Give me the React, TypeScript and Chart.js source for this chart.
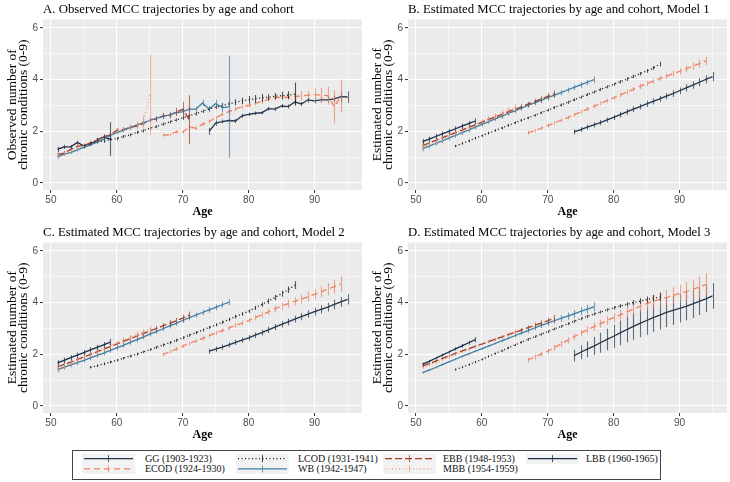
import { useEffect, useRef } from 'react';
import Chart from 'chart.js/auto';

// cohorts, in legend order
const cohortLabels = [
  'GG (1903-1923)',
  'ECOD (1924-1930)',
  'LCOD (1931-1941)',
  'WB (1942-1947)',
  'EBB (1948-1953)',
  'MBB (1954-1959)',
  'LBB (1960-1965)',
];
const cohortColors = ['#22364C', '#F0825F', '#111111', '#3F7EA3', '#A03C28', '#EE9A78', '#1A2E47'];
const cohortDash: number[][] = [[], [6, 4], [1, 2.5], [], [7, 3], [1, 2.5], []];

// ages observed for each cohort
const ggAges = [74, 75, 76, 77, 78, 79, 80, 81, 82, 83, 84, 85, 86, 87, 88, 89, 90, 91, 92, 93, 94, 95];
const ecodAges = [67, 68, 69, 70, 71, 72, 73, 74, 75, 76, 77, 78, 79, 80, 81, 82, 83, 84, 85, 86, 87, 88, 89, 90, 91, 92, 93, 94];
const lcodAges = [56, 57, 58, 59, 60, 61, 62, 63, 64, 65, 66, 67, 68, 69, 70, 71, 72, 73, 74, 75, 76, 77, 78, 79, 80, 81, 82, 83, 84, 85, 86, 87];
const wbAges = [51, 52, 53, 54, 55, 56, 57, 58, 59, 60, 61, 62, 63, 64, 65, 66, 67, 68, 69, 70, 71, 72, 73, 74, 75, 76, 77];
const ebbAges = [51, 52, 53, 54, 55, 56, 57, 58, 59, 60, 61, 62, 63, 64, 65, 66, 67, 68, 69, 70, 71];
const mbbAges = [51, 52, 53, 54, 55, 56, 57, 58, 59, 60, 61, 62, 63, 64, 65];
const lbbAges = [51, 52, 53, 54, 55, 56, 57, 58, 59];
const cohortAges = [ggAges, ecodAges, lcodAges, wbAges, ebbAges, mbbAges, lbbAges];

const xTickLabels = [50, 60, 70, 80, 90];
const yTickLabels = [0, 2, 4, 6];

// A. observed means and error-bar half widths
const aGG = [2.0, 2.32, 2.38, 2.42, 2.4, 2.6, 2.66, 2.7, 2.72, 2.88, 2.86, 2.98, 2.96, 3.14, 3.06, 3.22, 3.18, 3.22, 3.22, 3.26, 3.34, 3.33];
const aGGErr = [0.14, 0.1, 0.08, 0.08, 0.08, 0.08, 0.07, 0.07, 0.07, 0.07, 0.07, 0.08, 0.08, 0.1, 0.08, 0.1, 0.1, 0.1, 0.1, 0.12, 0.2, 0.22];
const aECOD = [1.85, 1.87, 1.98, 1.97, 2.17, 2.12, 2.28, 2.38, 2.52, 2.66, 2.76, 2.86, 2.96, 3.0, 3.08, 3.16, 3.24, 3.3, 3.32, 3.32, 3.35, 3.37, 3.4, 3.42, 3.4, 3.38, 2.95, 3.38];
const aECODErr = [0.06, 0.06, 0.06, 0.06, 0.07, 0.07, 0.07, 0.07, 0.07, 0.07, 0.08, 0.08, 0.08, 0.08, 0.08, 0.09, 0.09, 0.1, 0.1, 0.12, 0.14, 0.18, 0.15, 0.27, 0.28, 0.35, 0.65, 0.63];
const aLCOD = [1.55, 1.6, 1.62, 1.68, 1.72, 1.8, 1.86, 1.96, 2.02, 2.12, 2.18, 2.28, 2.36, 2.44, 2.52, 2.6, 2.68, 2.78, 2.86, 2.94, 3.0, 3.06, 3.12, 3.18, 3.22, 3.26, 3.3, 3.32, 3.36, 3.38, 3.4, 3.44];
const aLCODErr = [0.06, 0.06, 0.06, 0.06, 0.06, 0.06, 0.06, 0.06, 0.06, 0.06, 0.06, 0.06, 0.06, 0.06, 0.07, 0.07, 0.07, 0.07, 0.08, 0.08, 0.1, 0.1, 0.12, 0.12, 0.15, 0.15, 0.15, 0.12, 0.12, 0.15, 0.15, 0.45];
const aWB = [1.0, 1.12, 1.18, 1.28, 1.38, 1.48, 1.58, 1.7, 1.84, 1.95, 2.04, 2.14, 2.24, 2.33, 2.42, 2.5, 2.58, 2.64, 2.72, 2.76, 2.86, 2.86, 3.1, 2.86, 3.08, 2.92, 2.95];
const aWBErr = [0.06, 0.06, 0.06, 0.06, 0.06, 0.06, 0.06, 0.06, 0.06, 0.06, 0.06, 0.06, 0.06, 0.06, 0.07, 0.07, 0.07, 0.08, 0.08, 0.1, 0.1, 0.1, 0.12, 0.12, 0.14, 0.18, 1.98];
const aEBB = [1.1, 1.16, 1.3, 1.42, 1.45, 1.55, 1.65, 1.8, 1.85, 2.05, 2.07, 2.15, 2.2, 2.3, 2.45, 2.47, 2.6, 2.62, 2.75, 2.85, 2.45];
const aEBBErr = [0.08, 0.08, 0.08, 0.08, 0.08, 0.08, 0.08, 0.08, 0.08, 0.09, 0.09, 0.09, 0.1, 0.1, 0.1, 0.1, 0.12, 0.12, 0.15, 0.3, 0.95];
const aMBB = [1.05, 1.12, 1.25, 1.35, 1.45, 1.55, 1.68, 1.8, 1.9, 2.0, 2.06, 2.16, 2.24, 2.36, 3.4];
const aMBBErr = [0.08, 0.08, 0.08, 0.08, 0.08, 0.08, 0.09, 0.09, 0.09, 0.1, 0.12, 0.12, 0.15, 0.25, 1.55];
const aLBB = [1.3, 1.4, 1.4, 1.57, 1.44, 1.52, 1.66, 1.78, 1.7];
const aLBBErr = [0.1, 0.08, 0.07, 0.07, 0.07, 0.08, 0.08, 0.09, 0.65];

// B. Model 1 estimates
const bGG = [1.98, 2.07, 2.16, 2.25, 2.34, 2.44, 2.54, 2.65, 2.75, 2.86, 2.96, 3.06, 3.16, 3.26, 3.36, 3.46, 3.57, 3.68, 3.79, 3.9, 4.01, 4.12];
const bGGErr = [0.1, 0.1, 0.1, 0.1, 0.1, 0.1, 0.1, 0.11, 0.11, 0.11, 0.11, 0.12, 0.12, 0.12, 0.12, 0.13, 0.13, 0.14, 0.14, 0.15, 0.16, 0.18];
const bECOD = [1.94, 2.03, 2.12, 2.22, 2.32, 2.43, 2.53, 2.64, 2.75, 2.86, 2.97, 3.08, 3.19, 3.3, 3.41, 3.52, 3.63, 3.74, 3.85, 3.94, 4.04, 4.13, 4.23, 4.32, 4.42, 4.52, 4.62, 4.73];
const bECODErr = [0.07, 0.07, 0.07, 0.07, 0.07, 0.07, 0.07, 0.08, 0.08, 0.08, 0.08, 0.08, 0.08, 0.09, 0.09, 0.09, 0.09, 0.1, 0.1, 0.1, 0.11, 0.11, 0.12, 0.12, 0.13, 0.14, 0.15, 0.16];
const bLCOD = [1.43, 1.53, 1.63, 1.73, 1.83, 1.93, 2.03, 2.13, 2.23, 2.33, 2.43, 2.52, 2.62, 2.72, 2.82, 2.92, 3.02, 3.12, 3.22, 3.32, 3.42, 3.52, 3.62, 3.72, 3.82, 3.92, 4.02, 4.12, 4.23, 4.34, 4.45, 4.6];
const bLCODErr = [0.05, 0.05, 0.05, 0.05, 0.05, 0.05, 0.05, 0.05, 0.05, 0.05, 0.05, 0.05, 0.05, 0.05, 0.05, 0.06, 0.06, 0.06, 0.06, 0.06, 0.06, 0.06, 0.06, 0.06, 0.06, 0.07, 0.07, 0.07, 0.07, 0.07, 0.08, 0.09];
const bWB = [1.33, 1.43, 1.53, 1.63, 1.74, 1.84, 1.95, 2.05, 2.16, 2.27, 2.37, 2.48, 2.58, 2.69, 2.79, 2.9, 3.0, 3.1, 3.2, 3.3, 3.4, 3.5, 3.6, 3.7, 3.8, 3.9, 4.0];
const bWBErr = [0.1, 0.09, 0.09, 0.09, 0.09, 0.09, 0.09, 0.09, 0.09, 0.09, 0.09, 0.09, 0.09, 0.09, 0.09, 0.09, 0.09, 0.09, 0.1, 0.1, 0.1, 0.1, 0.1, 0.1, 0.11, 0.11, 0.12];
const bEBB = [1.45, 1.55, 1.65, 1.75, 1.85, 1.95, 2.05, 2.15, 2.25, 2.35, 2.45, 2.55, 2.65, 2.75, 2.85, 2.95, 3.05, 3.15, 3.25, 3.35, 3.45];
const bEBBErr = [0.09, 0.09, 0.09, 0.09, 0.09, 0.09, 0.09, 0.09, 0.09, 0.09, 0.09, 0.09, 0.1, 0.1, 0.1, 0.1, 0.1, 0.1, 0.11, 0.12, 0.13];
const bMBB = [1.4, 1.5, 1.6, 1.71, 1.82, 1.93, 2.04, 2.15, 2.26, 2.37, 2.48, 2.59, 2.7, 2.81, 2.92];
const bMBBErr = [0.1, 0.1, 0.1, 0.1, 0.1, 0.1, 0.1, 0.1, 0.1, 0.1, 0.11, 0.11, 0.12, 0.12, 0.13];
const bLBB = [1.6, 1.7, 1.8, 1.9, 2.0, 2.1, 2.2, 2.3, 2.4];
const bLBBErr = [0.1, 0.1, 0.1, 0.1, 0.1, 0.1, 0.1, 0.1, 0.11];

// C. Model 2 estimates
const cGG = [2.12, 2.2, 2.28, 2.37, 2.46, 2.55, 2.64, 2.74, 2.84, 2.95, 3.05, 3.16, 3.26, 3.36, 3.46, 3.56, 3.65, 3.74, 3.83, 3.93, 4.03, 4.13];
const cGGErr = [0.1, 0.1, 0.1, 0.1, 0.1, 0.1, 0.11, 0.11, 0.11, 0.12, 0.12, 0.12, 0.13, 0.13, 0.14, 0.14, 0.15, 0.16, 0.17, 0.18, 0.19, 0.2];
const cECOD = [1.99, 2.1, 2.2, 2.32, 2.42, 2.52, 2.62, 2.72, 2.83, 2.92, 3.02, 3.12, 3.21, 3.31, 3.42, 3.53, 3.64, 3.76, 3.87, 3.96, 4.05, 4.14, 4.23, 4.32, 4.42, 4.52, 4.62, 4.72];
const cECODErr = [0.07, 0.07, 0.07, 0.07, 0.07, 0.07, 0.08, 0.08, 0.08, 0.08, 0.09, 0.09, 0.09, 0.1, 0.1, 0.11, 0.12, 0.13, 0.14, 0.15, 0.16, 0.17, 0.19, 0.2, 0.22, 0.24, 0.27, 0.3];
const cLCOD = [1.5, 1.56, 1.63, 1.7, 1.77, 1.85, 1.93, 2.01, 2.09, 2.18, 2.27, 2.36, 2.45, 2.54, 2.64, 2.74, 2.84, 2.94, 3.04, 3.14, 3.24, 3.35, 3.46, 3.56, 3.67, 3.8, 3.93, 4.06, 4.2, 4.35, 4.5, 4.68];
const cLCODErr = [0.05, 0.05, 0.05, 0.05, 0.05, 0.05, 0.05, 0.05, 0.05, 0.05, 0.06, 0.06, 0.06, 0.06, 0.06, 0.06, 0.06, 0.06, 0.06, 0.06, 0.07, 0.07, 0.07, 0.07, 0.07, 0.08, 0.09, 0.1, 0.11, 0.12, 0.13, 0.15];
const cWB = [1.41, 1.5, 1.59, 1.68, 1.77, 1.86, 1.96, 2.05, 2.15, 2.25, 2.35, 2.46, 2.56, 2.67, 2.78, 2.88, 2.99, 3.1, 3.2, 3.31, 3.42, 3.52, 3.62, 3.72, 3.82, 3.92, 4.02];
const cWBErr = [0.1, 0.09, 0.09, 0.09, 0.09, 0.09, 0.09, 0.09, 0.09, 0.09, 0.09, 0.09, 0.09, 0.09, 0.09, 0.09, 0.09, 0.1, 0.1, 0.1, 0.1, 0.1, 0.11, 0.11, 0.11, 0.12, 0.12];
const cEBB = [1.52, 1.61, 1.7, 1.8, 1.9, 2.0, 2.1, 2.2, 2.3, 2.4, 2.5, 2.6, 2.7, 2.8, 2.9, 3.0, 3.1, 3.2, 3.3, 3.4, 3.52];
const cEBBErr = [0.1, 0.1, 0.1, 0.1, 0.1, 0.1, 0.1, 0.1, 0.1, 0.1, 0.1, 0.1, 0.1, 0.1, 0.11, 0.11, 0.11, 0.12, 0.12, 0.13, 0.14];
const cMBB = [1.46, 1.56, 1.66, 1.77, 1.88, 1.99, 2.1, 2.21, 2.32, 2.43, 2.54, 2.65, 2.76, 2.87, 2.98];
const cMBBErr = [0.1, 0.1, 0.1, 0.1, 0.1, 0.1, 0.1, 0.1, 0.1, 0.1, 0.11, 0.11, 0.12, 0.12, 0.13];
const cLBB = [1.67, 1.77, 1.87, 1.97, 2.07, 2.17, 2.27, 2.37, 2.47];
const cLBBErr = [0.1, 0.1, 0.1, 0.1, 0.1, 0.1, 0.1, 0.11, 0.12];

// D. Model 3 estimates
const dGG = [1.95, 2.08, 2.2, 2.32, 2.45, 2.58, 2.7, 2.83, 2.96, 3.08, 3.2, 3.31, 3.42, 3.52, 3.62, 3.7, 3.78, 3.86, 3.95, 4.05, 4.15, 4.26];
const dGGErr = [0.23, 0.27, 0.31, 0.35, 0.39, 0.42, 0.45, 0.48, 0.5, 0.52, 0.54, 0.55, 0.56, 0.56, 0.56, 0.56, 0.55, 0.55, 0.54, 0.53, 0.52, 0.5];
const dECOD = [1.78, 1.9, 2.01, 2.12, 2.26, 2.4, 2.54, 2.68, 2.82, 2.95, 3.07, 3.19, 3.31, 3.42, 3.53, 3.64, 3.75, 3.86, 3.96, 4.05, 4.13, 4.2, 4.28, 4.35, 4.43, 4.52, 4.6, 4.7];
const dECODErr = [0.1, 0.1, 0.1, 0.11, 0.11, 0.12, 0.12, 0.13, 0.13, 0.14, 0.15, 0.16, 0.17, 0.18, 0.19, 0.2, 0.21, 0.22, 0.24, 0.26, 0.28, 0.3, 0.32, 0.34, 0.36, 0.38, 0.42, 0.45];
const dLCOD = [1.41, 1.5, 1.6, 1.7, 1.8, 1.92, 2.03, 2.14, 2.25, 2.36, 2.47, 2.58, 2.68, 2.78, 2.88, 2.98, 3.08, 3.18, 3.28, 3.38, 3.47, 3.56, 3.64, 3.72, 3.8, 3.87, 3.94, 4.0, 4.06, 4.12, 4.17, 4.22];
const dLCODErr = [0.04, 0.04, 0.04, 0.04, 0.04, 0.04, 0.04, 0.04, 0.04, 0.04, 0.05, 0.05, 0.05, 0.05, 0.05, 0.05, 0.05, 0.05, 0.06, 0.06, 0.06, 0.06, 0.06, 0.06, 0.07, 0.08, 0.09, 0.1, 0.11, 0.12, 0.13, 0.15];
const dWB = [1.29, 1.39, 1.49, 1.6, 1.71, 1.81, 1.92, 2.02, 2.12, 2.22, 2.32, 2.42, 2.52, 2.62, 2.72, 2.82, 2.92, 3.02, 3.12, 3.21, 3.3, 3.39, 3.48, 3.57, 3.66, 3.75, 3.84];
const dWBErr = [0.04, 0.04, 0.04, 0.04, 0.04, 0.04, 0.04, 0.04, 0.04, 0.04, 0.04, 0.04, 0.05, 0.05, 0.06, 0.07, 0.08, 0.09, 0.1, 0.11, 0.12, 0.13, 0.14, 0.15, 0.16, 0.17, 0.18];
const dEBB = [1.55, 1.64, 1.74, 1.84, 1.94, 2.04, 2.13, 2.22, 2.31, 2.4, 2.49, 2.58, 2.67, 2.76, 2.85, 2.94, 3.03, 3.12, 3.21, 3.3, 3.39];
const dEBBErr = [0.04, 0.04, 0.04, 0.04, 0.04, 0.04, 0.04, 0.04, 0.04, 0.04, 0.05, 0.05, 0.06, 0.06, 0.07, 0.08, 0.09, 0.1, 0.11, 0.12, 0.13];
const dMBB = [1.48, 1.58, 1.68, 1.78, 1.88, 1.98, 2.08, 2.18, 2.28, 2.38, 2.48, 2.58, 2.68, 2.78, 2.88];
const dMBBErr = [0.04, 0.04, 0.04, 0.04, 0.04, 0.04, 0.04, 0.04, 0.04, 0.04, 0.05, 0.05, 0.06, 0.07, 0.08];
const dLBB = [1.62, 1.73, 1.85, 1.97, 2.09, 2.21, 2.33, 2.45, 2.57];
const dLBBErr = [0.05, 0.05, 0.05, 0.05, 0.06, 0.06, 0.07, 0.08, 0.1];

const SERIF = '"Liberation Serif", "Times New Roman", serif';
const SANS = '"Liberation Sans", Arial, sans-serif';

function withAlpha(hex: string, a: number) {
  const n = parseInt(hex.slice(1), 16);
  return `rgba(${(n >> 16) & 255}, ${(n >> 8) & 255}, ${n & 255}, ${a})`;
}

// grey ggplot panel behind the grid
const panelBg = {
  id: 'panelBg',
  beforeDraw(chart: any) {
    const { ctx, chartArea: a } = chart;
    ctx.save();
    ctx.fillStyle = '#EBEBEB';
    ctx.fillRect(a.left, a.top, a.width, a.height);
    ctx.restore();
  },
};

// vertical error bars, mean +/- half width
const errorBars = {
  id: 'errorBars',
  afterDatasetsDraw(chart: any) {
    const { ctx, chartArea: a, scales: { x, y } } = chart;
    ctx.save();
    ctx.beginPath();
    ctx.rect(a.left, a.top, a.width, a.height);
    ctx.clip();
    ctx.lineWidth = 1.1;
    chart.data.datasets.forEach((ds: any) => {
      ctx.strokeStyle = ds.errColor;
      ds.data.forEach((p: any, i: number) => {
        const e = ds.errs[i];
        const px = Math.round(x.getPixelForValue(p.x)) + 0.5;
        ctx.beginPath();
        ctx.moveTo(px, y.getPixelForValue(p.y - e));
        ctx.lineTo(px, y.getPixelForValue(p.y + e));
        ctx.stroke();
      });
    });
    ctx.restore();
  },
};

interface PanelProps {
  title: string;
  yTitle: string[];
  values: number[][];
  errs: number[][];
  left: number;
  top: number;
}

function Panel({ title, yTitle, values, errs, left, top }: PanelProps) {
  const canvasRef = useRef<HTMLCanvasElement>(null);

  useEffect(() => {
    if (!canvasRef.current) return;
    const isMajorX = (v: number) => xTickLabels.includes(v);
    const isMajorY = (v: number) => yTickLabels.includes(v);

    const chart = new Chart(canvasRef.current, {
      type: 'line',
      data: {
        datasets: values.map((vals, c) => ({
          label: cohortLabels[c],
          data: cohortAges[c].map((age, i) => ({ x: age, y: vals[i] })),
          errs: errs[c],
          errColor: withAlpha(cohortColors[c], 0.7),
          borderColor: cohortColors[c],
          borderDash: cohortDash[c],
          borderWidth: 1.3,
          pointRadius: 0,
          tension: 0,
          fill: false,
        })) as any,
      },
      options: {
        animation: false,
        responsive: true,
        maintainAspectRatio: false,
        layout: { padding: { left: 0, right: 3, top: 0, bottom: 0 } },
        plugins: {
          legend: { display: false },
          tooltip: { enabled: false },
          title: {
            display: true,
            text: title,
            align: 'start',
            fullSize: false,
            color: '#000',
            font: { family: SERIF, size: 12.8, weight: 'normal', lineHeight: 1.2 },
            padding: { top: 2.4, bottom: 1.7 },
          },
        },
        scales: {
          x: {
            type: 'linear',
            min: 48.8,
            max: 97.2,
            border: { display: false },
            afterFit: (s: any) => { s.height = 33; },
            ticks: {
              stepSize: 5,
              includeBounds: false,
              autoSkip: false,
              maxRotation: 0,
              padding: 1,
              color: '#4D4D4D',
              font: { family: SANS, size: 10 },
              callback: (v: any) => (isMajorX(Number(v)) ? String(v) : ''),
            },
            grid: {
              color: '#FFFFFF',
              lineWidth: (ctx: any) => (isMajorX(ctx.tick.value) ? 1.1 : 0.55),
              tickColor: (ctx: any) => (isMajorX(ctx.tick.value) ? '#333333' : 'rgba(0,0,0,0)'),
              tickLength: 3,
              tickWidth: 1,
            },
            title: {
              display: true,
              text: 'Age',
              color: '#000',
              font: { family: SERIF, size: 12, weight: 'bold', lineHeight: 1.2 },
              padding: { top: 0, bottom: 3.8 },
            },
          },
          y: {
            type: 'linear',
            min: -0.27,
            max: 6.33,
            border: { display: false },
            afterFit: (s: any) => { s.width = 43; },
            ticks: {
              stepSize: 1,
              includeBounds: false,
              autoSkip: false,
              padding: 2,
              color: '#4D4D4D',
              font: { family: SANS, size: 10 },
              callback: (v: any) => (isMajorY(Number(v)) ? String(v) : ''),
            },
            grid: {
              color: '#FFFFFF',
              lineWidth: (ctx: any) => (isMajorY(ctx.tick.value) ? 1.1 : 0.55),
              tickColor: (ctx: any) => (isMajorY(ctx.tick.value) ? '#333333' : 'rgba(0,0,0,0)'),
              tickLength: 3,
              tickWidth: 1,
            },
            title: {
              display: true,
              text: yTitle,
              color: '#000',
              font: { family: SERIF, size: 13.5, weight: 'normal', lineHeight: 0.85 },
              padding: { top: 6.3, bottom: 0 },
            },
          },
        },
      },
      plugins: [panelBg, errorBars],
    });

    return () => {
      chart.destroy();
    };
  }, [title, yTitle, values, errs]);

  return (
    <div style={{ position: 'absolute', left, top, width: 365, height: 223 }}>
      <canvas ref={canvasRef}></canvas>
    </div>
  );
}

function Legend() {
  const keyX = [10, 164, 311, 454];
  const labelX = [73, 226, 371, 514];
  const keyW = 53;
  return (
    <svg width={589} height={30} style={{ position: 'absolute', left: 72, top: 450 }}>
      <rect x={0.5} y={0.5} width={588} height={29} fill="#FFFFFF" stroke="#444444" strokeWidth={1} />
      {cohortLabels.map((label, i) => {
        const col = Math.floor(i / 2);
        const row = i % 2;
        const y0 = 3.5 + row * 10.3;
        const cy = y0 + 5.15;
        const kx = keyX[col];
        return (
          <g key={label}>
            <rect x={kx} y={y0} width={keyW} height={10.3} fill="#F2F2F2" />
            <line
              x1={kx + 2}
              x2={kx + keyW - 2}
              y1={cy}
              y2={cy}
              stroke={cohortColors[i]}
              strokeWidth={1.2}
              strokeDasharray={cohortDash[i].join(' ')}
            />
            <line x1={kx + keyW / 2} x2={kx + keyW / 2} y1={cy - 3.5} y2={cy + 3.5} stroke={withAlpha(cohortColors[i], 0.8)} strokeWidth={1} />
            <text x={labelX[col]} y={cy} dominantBaseline="central" fontFamily={SERIF} fontSize={10} fill="#111111">
              {label}
            </text>
          </g>
        );
      })}
    </svg>
  );
}

const panelA = { values: [aGG, aECOD, aLCOD, aWB, aEBB, aMBB, aLBB], errs: [aGGErr, aECODErr, aLCODErr, aWBErr, aEBBErr, aMBBErr, aLBBErr] };
const panelB = { values: [bGG, bECOD, bLCOD, bWB, bEBB, bMBB, bLBB], errs: [bGGErr, bECODErr, bLCODErr, bWBErr, bEBBErr, bMBBErr, bLBBErr] };
const panelC = { values: [cGG, cECOD, cLCOD, cWB, cEBB, cMBB, cLBB], errs: [cGGErr, cECODErr, cLCODErr, cWBErr, cEBBErr, cMBBErr, cLBBErr] };
const panelD = { values: [dGG, dECOD, dLCOD, dWB, dEBB, dMBB, dLBB], errs: [dGGErr, dECODErr, dLCODErr, dWBErr, dEBBErr, dMBBErr, dLBBErr] };

const observedTitle = ['Observed number of', 'chronic conditions (0-9)'];
const estimatedTitle = ['Estimated number of', 'chronic conditions (0-9)'];

export default function App() {
  return (
    <div style={{ position: 'absolute', left: 0, top: 0, width: 730, height: 482, background: '#FFFFFF', overflow: 'hidden' }}>
      <Panel title="A. Observed MCC trajectories by age and cohort" yTitle={observedTitle} values={panelA.values} errs={panelA.errs} left={0} top={0} />
      <Panel title="B. Estimated MCC trajectories by age and cohort, Model 1" yTitle={estimatedTitle} values={panelB.values} errs={panelB.errs} left={365} top={0} />
      <Panel title="C. Estimated MCC trajectories by age and cohort, Model 2" yTitle={estimatedTitle} values={panelC.values} errs={panelC.errs} left={0} top={223} />
      <Panel title="D. Estimated MCC trajectories by age and cohort, Model 3" yTitle={estimatedTitle} values={panelD.values} errs={panelD.errs} left={365} top={223} />
      <Legend />
    </div>
  );
}
